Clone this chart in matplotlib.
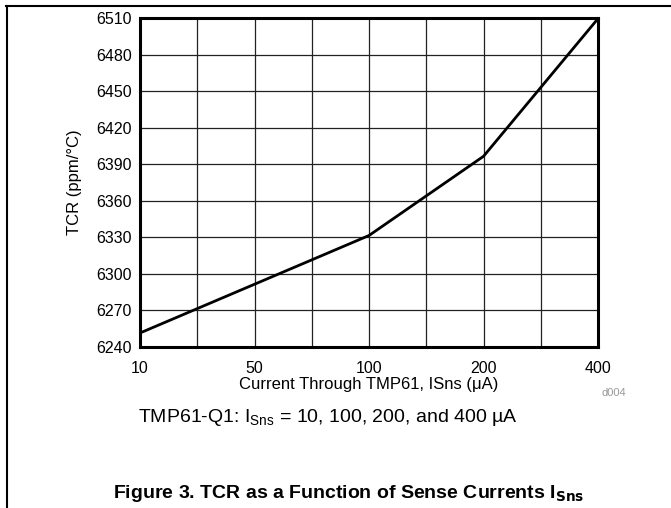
import matplotlib.pyplot as plt
from matplotlib.lines import Line2D

plt.rcParams['font.family'] = ['Liberation Sans', 'DejaVu Sans']

# data
tick_labels = ['10', '50', '100', '200', '400']
current = ['10', '100', '200', '400']
tcr = [6251.5, 6331.5, 6396.5, 6509.5]

pos = [tick_labels.index(c) for c in current]

fig = plt.figure(figsize=(6.71, 5.08), dpi=100)
ax = fig.add_axes([140 / 671, 1 - 347 / 508, 458 / 671, 329 / 508])

ax.plot(pos, tcr, color='black', lw=2, solid_joinstyle='miter')

ax.set_xlim(0, 4)
ax.set_ylim(6240, 6510)
ax.set_xticks(range(5))
ax.set_xticklabels(tick_labels)
ax.set_xticks([0.5, 1.5, 2.5, 3.5], minor=True)
ax.set_yticks(range(6240, 6511, 30))
ax.grid(True, which='both', color='#222222', lw=0.9)
ax.set_axisbelow(True)
ax.tick_params(which='both', length=0, labelsize=11.5)
ax.tick_params(axis='x', pad=10)
ax.tick_params(axis='y', pad=6)
for s in ax.spines.values():
    s.set_linewidth(2.2)

ax.set_xlabel('Current Through TMP61, ISns (\u03bcA)', fontsize=12, labelpad=1)
ax.set_ylabel('TCR (ppm/\u00b0C)', fontsize=12, labelpad=10)

fig.text(626 / 671, 1 - 393 / 508, 'd004', color='#999999', fontsize=8,
         ha='right', va='center')
fig.text(138 / 671, 1 - 418 / 508,
         'TMP61-Q1: I$_{\\mathregular{Sns}}$ = 10, 100, 200, and 400 \u00b5A',
         fontsize=14, ha='left', va='center')
fig.text(349 / 671, 1 - 493 / 508,
         'Figure 3. TCR as a Function of Sense Currents I$_{\\mathbf{Sns}}$',
         fontsize=14, fontweight='bold', ha='center', va='center')

# page frame
fig.add_artist(Line2D([6 / 671, 1], [1 - 6 / 508] * 2, color='black', lw=1.5,
                      transform=fig.transFigure))
fig.add_artist(Line2D([7 / 671] * 2, [0, 1 - 6 / 508], color='black', lw=1.5,
                      transform=fig.transFigure))

fig.savefig('out.png', dpi=100)
